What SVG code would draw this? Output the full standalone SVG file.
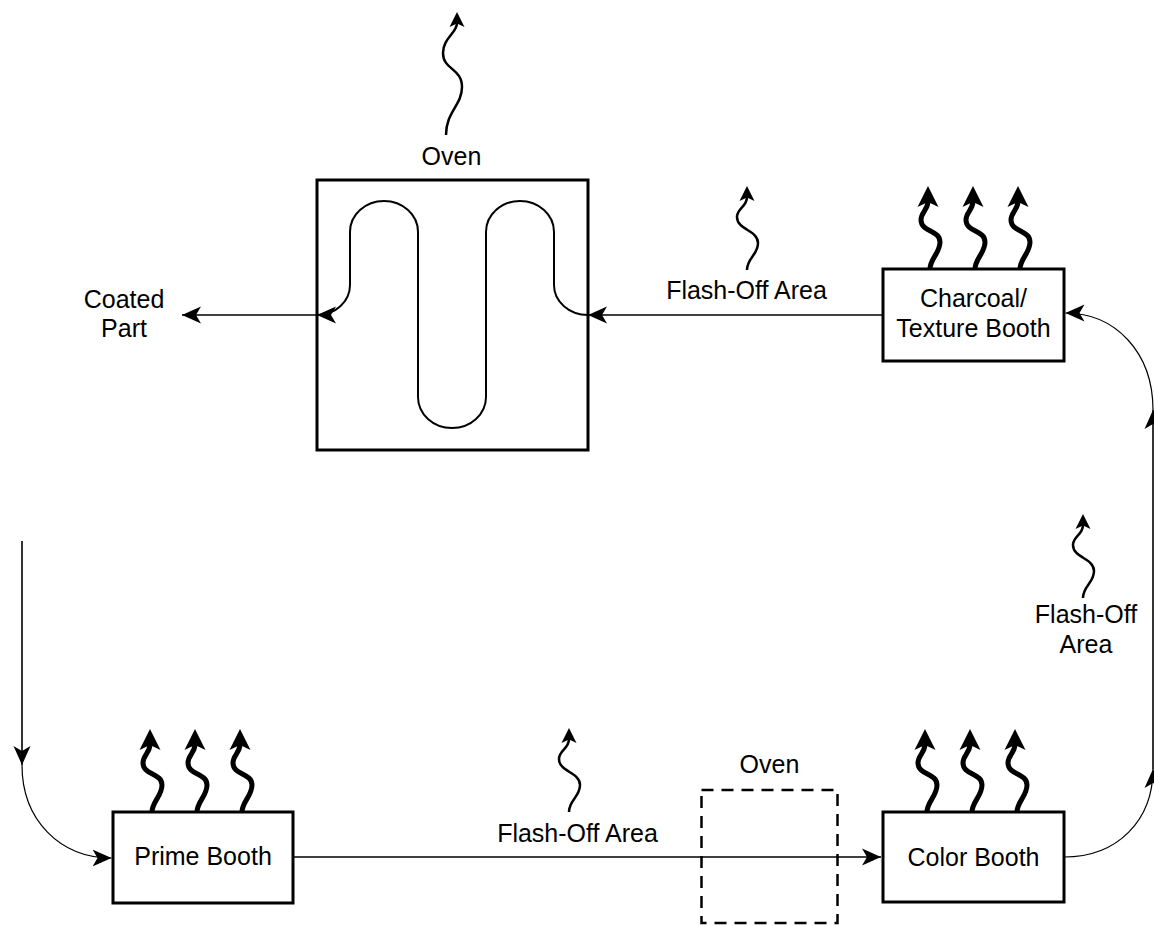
<svg xmlns="http://www.w3.org/2000/svg" xmlns:xlink="http://www.w3.org/1999/xlink" width="1154" height="926" viewBox="0 0 1154 926">
<style>
.t{font-family:"Liberation Sans",Arial,sans-serif;font-size:25px;fill:#000;text-anchor:middle}
.box{fill:#fff;stroke:#000;stroke-width:3}
.dash{fill:none;stroke:#000;stroke-width:2.5;stroke-dasharray:12 8}
.con{fill:none;stroke:#000;stroke-width:1.6}
.cur{fill:none;stroke:#000;stroke-width:1.2}
.path{fill:none;stroke:#000;stroke-width:2}
.tw{fill:none;stroke:#000;stroke-width:2.5}
.kw{fill:none;stroke:#000;stroke-width:5}
</style>
<defs>
<marker id="ca" markerUnits="userSpaceOnUse" markerWidth="19" markerHeight="18" viewBox="0 -9 19 18" refX="19" refY="0" orient="auto"><path d="M19,0 L0,-8.5 L5,0 L0,8.5Z" fill="#000"/></marker>
<marker id="wa" markerUnits="userSpaceOnUse" markerWidth="15" markerHeight="16" viewBox="0 -8 15 16" refX="4" refY="0" orient="auto"><path d="M15,0 L0,-7.5 L3.5,0 L0,7.5Z" fill="#000"/></marker>
<marker id="ta" markerUnits="userSpaceOnUse" markerWidth="21" markerHeight="22" viewBox="0 -11 21 22" refX="6" refY="0" orient="auto"><path d="M21,0 L0,-10.5 L5,0 L0,10.5Z" fill="#000"/></marker>
<path id="thinWave" class="tw" d="M0,0 C0,-12 11,-15 11,-27 C11,-40 -10,-40 -10,-53 C-10,-62 0,-63 0,-73" marker-end="url(#wa)"/>
<path id="thickWave" class="kw" d="M0,0 C0,-10 10,-16 10,-27 C10,-39 -9,-37 -9,-49 C-9,-57 -2,-59 -2,-68" marker-end="url(#ta)"/>
</defs>
<rect width="1154" height="926" fill="#fff"/>

<g id="connectors">
<line class="con" x1="22" y1="541" x2="22" y2="765" marker-end="url(#ca)"/>
<path class="cur" d="M22,765 C22,820 60,858 111.5,858" marker-end="url(#ca)"/>
<line class="con" x1="293" y1="857" x2="881" y2="857" marker-end="url(#ca)"/>
<path class="cur" d="M1064,857 C1118,857 1153,820 1153,769" marker-end="url(#ca)"/>
<line class="con" x1="1153" y1="769" x2="1153" y2="410" marker-end="url(#ca)"/>
<path class="cur" d="M1153,410 C1153,352 1115,313 1065.5,313" marker-end="url(#ca)"/>
<line class="con" x1="883" y1="315" x2="588" y2="315" marker-end="url(#ca)"/>
<line class="con" x1="317" y1="315" x2="182" y2="315" marker-end="url(#ca)"/>
</g>

<g id="oven-top">
<rect class="box" x="317" y="180" width="271" height="270"/>
<path class="path" d="M588,315 A34,30 0 0 1 554,285 L554,232 A34,31 0 0 0 486,232 L486,397 A34,31 0 0 1 418,397 L418,232 A34,31 0 0 0 350,232 L350,285 A33,30 0 0 1 317,315" marker-end="url(#ca)"/>
<path class="tw" d="M446,135 C446,112 462,105 462,87 C462,68 443,70 443,53 C443,38 457,33 457,23" marker-end="url(#wa)"/>
<text class="t" x="451.5" y="165">Oven</text>
</g>

<g id="coated-part">
<text class="t" x="124" y="308">Coated</text>
<text class="t" x="124" y="337">Part</text>
</g>

<g id="flash-off-top">
<use xlink:href="#thinWave" x="747" y="270"/>
<text class="t" x="746.5" y="299">Flash-Off Area</text>
</g>

<g id="charcoal-booth">
<rect class="box" x="883" y="269" width="181" height="92"/>
<use xlink:href="#thickWave" x="930" y="269"/>
<use xlink:href="#thickWave" x="975" y="269"/>
<use xlink:href="#thickWave" x="1020" y="269"/>
<text class="t" x="973.5" y="307">Charcoal/</text>
<text class="t" x="973.5" y="337">Texture Booth</text>
</g>

<g id="flash-off-right">
<use xlink:href="#thinWave" x="1083" y="598"/>
<text class="t" x="1086" y="623">Flash-Off</text>
<text class="t" x="1086" y="653">Area</text>
</g>

<g id="prime-booth">
<rect class="box" x="113" y="812" width="180" height="91"/>
<use xlink:href="#thickWave" x="152" y="812"/>
<use xlink:href="#thickWave" x="197" y="812"/>
<use xlink:href="#thickWave" x="242" y="812"/>
<text class="t" x="203" y="865">Prime Booth</text>
</g>

<g id="flash-off-bottom">
<use xlink:href="#thinWave" x="569" y="812"/>
<text class="t" x="577.5" y="842">Flash-Off Area</text>
</g>

<g id="oven-dashed">
<rect class="dash" x="701.5" y="790" width="136" height="133"/>
<text class="t" x="769.5" y="773">Oven</text>
</g>

<g id="color-booth">
<rect class="box" x="883" y="812" width="181" height="90"/>
<use xlink:href="#thickWave" x="927" y="812"/>
<use xlink:href="#thickWave" x="972" y="812"/>
<use xlink:href="#thickWave" x="1017" y="812"/>
<text class="t" x="973.5" y="866">Color Booth</text>
</g>
</svg>
